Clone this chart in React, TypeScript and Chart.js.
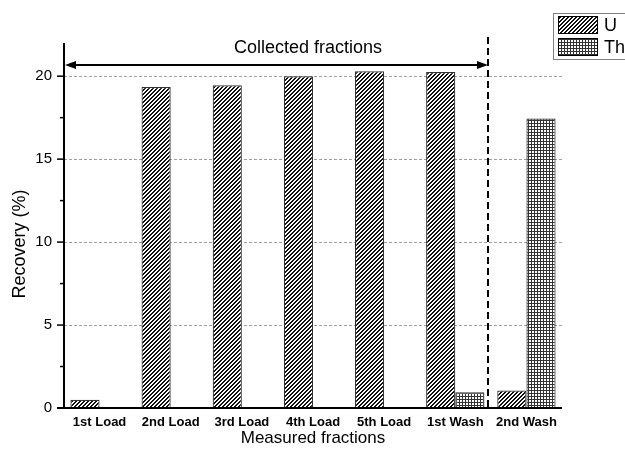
import React, { useEffect, useRef } from 'react';
import { Chart, registerables } from 'chart.js';
Chart.register(...registerables);

const categories = ['1st Load', '2nd Load', '3rd Load', '4th Load', '5th Load', '1st Wash', '2nd Wash'];
const uValues = [0.5, 19.35, 19.45, 20.0, 20.3, 20.25, 1.05];
const thValues = [0, 0, 0, 0, 0, 0.95, 17.45];
const seriesNames = ['U', 'Th'];
const majorTicks = [0, 5, 10, 15, 20];
const minorTicks = [2.5, 7.5, 12.5, 17.5];
const yMax = 22;
const arrowValue = 20.68;
const dividerValue = 5.46;
const annotationText = 'Collected fractions';
const xTitle = 'Measured fractions';
const yTitle = 'Recovery (%)';

const FONT = '"Liberation Sans", Arial, sans-serif';

function makeHatch(): CanvasPattern | string {
  const c = document.createElement('canvas');
  c.width = 4; c.height = 4;
  const g = c.getContext('2d');
  if (!g) return '#888';
  g.fillStyle = '#fff';
  g.fillRect(0, 0, 4, 4);
  g.fillStyle = '#111';
  for (let px = 0; px < 4; px++) {
    for (let py = 0; py < 4; py++) {
      if ((px + py) % 4 < 2) g.fillRect(px, py, 1, 1);
    }
  }
  return g.createPattern(c, 'repeat') || '#888';
}

function makeGrid(): CanvasPattern | string {
  const c = document.createElement('canvas');
  c.width = 3; c.height = 3;
  const g = c.getContext('2d');
  if (!g) return '#aaa';
  g.fillStyle = '#fff';
  g.fillRect(0, 0, 3, 3);
  g.fillStyle = '#333';
  g.fillRect(0, 0, 3, 1);
  g.fillRect(0, 0, 1, 3);
  return g.createPattern(c, 'repeat') || '#aaa';
}

export default function App() {
  const ref = useRef<HTMLCanvasElement>(null);
  useEffect(() => {
    if (!ref.current) return;
    const hatch = makeHatch();
    const grid = makeGrid();

    const decor = {
      id: 'decor',
      beforeDatasetsDraw(chart: any) {
        const { ctx, chartArea } = chart;
        const y = chart.scales.y;
        ctx.save();
        ctx.strokeStyle = '#a0a0a0';
        ctx.lineWidth = 1;
        ctx.setLineDash([3, 2]);
        majorTicks.forEach((v) => {
          if (v === 0) return;
          const py = Math.round(y.getPixelForValue(v)) + 0.5;
          ctx.beginPath();
          ctx.moveTo(chartArea.left, py);
          ctx.lineTo(chartArea.right, py);
          ctx.stroke();
        });
        ctx.restore();
      },
      afterDraw(chart: any) {
        const { ctx, chartArea } = chart;
        const x = chart.scales.x;
        const y = chart.scales.y;
        ctx.save();
        // axes
        ctx.strokeStyle = '#000';
        ctx.lineWidth = 2;
        ctx.setLineDash([]);
        ctx.beginPath();
        ctx.moveTo(chartArea.left, chartArea.top);
        ctx.lineTo(chartArea.left, chartArea.bottom);
        ctx.stroke();
        ctx.beginPath();
        ctx.moveTo(chartArea.left - 7, chartArea.bottom);
        ctx.lineTo(chartArea.right, chartArea.bottom);
        ctx.stroke();
        // ticks
        ctx.lineWidth = 1.5;
        majorTicks.forEach((v) => {
          const py = y.getPixelForValue(v);
          ctx.beginPath();
          ctx.moveTo(chartArea.left - 7, py);
          ctx.lineTo(chartArea.left, py);
          ctx.stroke();
        });
        minorTicks.forEach((v) => {
          const py = y.getPixelForValue(v);
          ctx.beginPath();
          ctx.moveTo(chartArea.left - 4, py);
          ctx.lineTo(chartArea.left, py);
          ctx.stroke();
        });
        // divider
        const dx = Math.round(x.getPixelForValue(dividerValue));
        ctx.lineWidth = 2;
        ctx.setLineDash([7, 4]);
        ctx.beginPath();
        ctx.moveTo(dx, chartArea.top - 6);
        ctx.lineTo(dx, chartArea.bottom);
        ctx.stroke();
        ctx.setLineDash([]);
        // arrow
        const ay = Math.round(y.getPixelForValue(arrowValue));
        const ax0 = chartArea.left + 1;
        const ax1 = dx;
        ctx.lineWidth = 2;
        ctx.beginPath();
        ctx.moveTo(ax0 + 6, ay);
        ctx.lineTo(ax1 - 6, ay);
        ctx.stroke();
        ctx.fillStyle = '#000';
        ctx.beginPath();
        ctx.moveTo(ax0, ay);
        ctx.lineTo(ax0 + 11, ay - 4);
        ctx.lineTo(ax0 + 11, ay + 4);
        ctx.closePath();
        ctx.fill();
        ctx.beginPath();
        ctx.moveTo(ax1, ay);
        ctx.lineTo(ax1 - 11, ay - 4);
        ctx.lineTo(ax1 - 11, ay + 4);
        ctx.closePath();
        ctx.fill();
        // annotation text
        ctx.font = `18px ${FONT}`;
        ctx.textAlign = 'center';
        ctx.textBaseline = 'middle';
        ctx.fillStyle = '#000';
        ctx.fillText(annotationText, chartArea.left + (chartArea.right - chartArea.left) * 0.49, chartArea.top + 5);
        // axis titles
        ctx.font = `17px ${FONT}`;
        ctx.fillText(xTitle, (chartArea.left + chartArea.right) / 2, chartArea.bottom + 30);
        ctx.save();
        ctx.translate(20, 244);
        ctx.rotate(-Math.PI / 2);
        ctx.font = `18px ${FONT}`;
        ctx.fillText(yTitle, 0, 0);
        ctx.restore();
        // legend
        const lx = chartArea.right - 9;
        const ly = 13;
        ctx.strokeStyle = '#808080';
        ctx.lineWidth = 1;
        ctx.strokeRect(lx + 0.5, ly + 0.5, 90, 46);
        const fills = [hatch, grid];
        seriesNames.forEach((name, i) => {
          const sy = ly + 3 + i * 22;
          ctx.fillStyle = fills[i] as any;
          ctx.fillRect(lx + 5, sy, 40, 18);
          ctx.strokeStyle = '#000';
          ctx.lineWidth = 1;
          ctx.strokeRect(lx + 5.5, sy + 0.5, 39, 17);
          ctx.fillStyle = '#000';
          ctx.font = `18px ${FONT}`;
          ctx.textAlign = 'left';
          ctx.textBaseline = 'middle';
          ctx.fillText(name, lx + 51, sy + 10);
        });
        ctx.restore();
      },
    };

    const chart = new Chart(ref.current, {
      type: 'bar',
      data: {
        labels: categories,
        datasets: [
          {
            label: seriesNames[0],
            data: uValues,
            backgroundColor: hatch as any,
            borderColor: '#333',
            borderWidth: 1.2,
            categoryPercentage: 0.82,
            barPercentage: 1,
          },
          {
            label: seriesNames[1],
            data: thValues,
            backgroundColor: grid as any,
            borderColor: '#333',
            borderWidth: 1.2,
            categoryPercentage: 0.82,
            barPercentage: 1,
          },
        ],
      },
      options: {
        animation: false,
        responsive: false,
        layout: { padding: { top: 43, right: 63, bottom: 0, left: 0 } },
        plugins: { legend: { display: false }, tooltip: { enabled: false } },
        scales: {
          x: {
            grid: { display: false, drawTicks: false },
            border: { display: false },
            ticks: {
              color: '#000',
              font: { family: FONT, size: 13, weight: 'bold' },
              padding: 7,
              maxRotation: 0,
              autoSkip: false,
            },
            afterFit: (s: any) => { s.height = 49; },
          },
          y: {
            min: 0,
            max: yMax,
            grid: { display: false, drawTicks: false },
            border: { display: false },
            ticks: {
              stepSize: 5,
              includeBounds: false,
              color: '#000',
              font: { family: FONT, size: 15 },
              padding: 12,
              callback: (v: any) => (majorTicks.includes(Number(v)) ? String(v) : ''),
            },
            afterFit: (s: any) => { s.width = 64; },
          },
        },
      },
      plugins: [decor],
    });
    return () => chart.destroy();
  }, []);

  return (
    <div style={{ position: 'absolute', left: 0, top: 0, width: 625, height: 457 }}>
      <canvas ref={ref} width={625} height={457} style={{ display: 'block' }} />
    </div>
  );
}
